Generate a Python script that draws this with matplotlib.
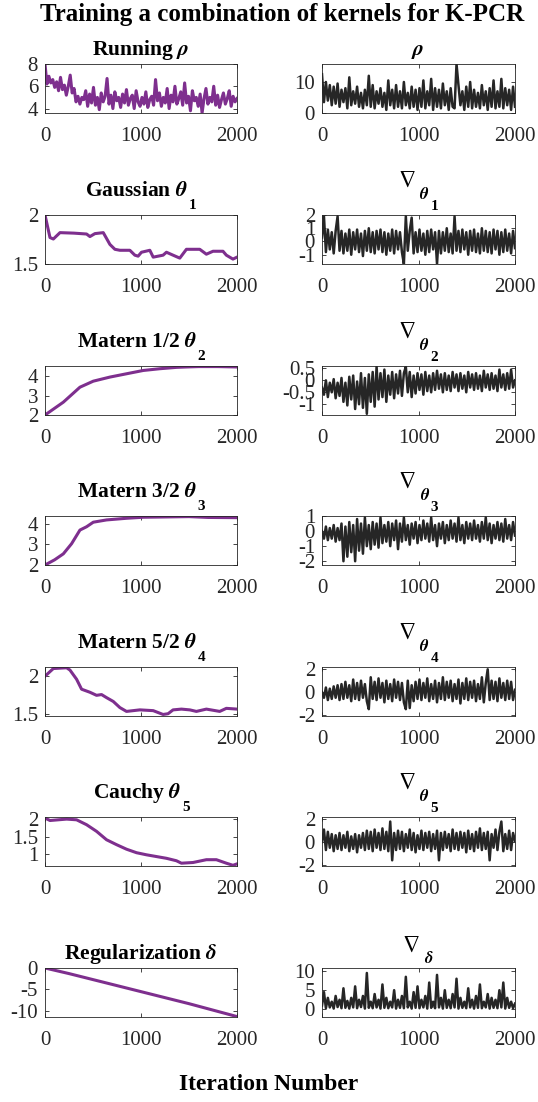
import numpy as np
import matplotlib
matplotlib.use("Agg")
import matplotlib.pyplot as plt

plt.rcParams["font.family"] = ["Liberation Serif", "DejaVu Serif"]
plt.rcParams["mathtext.fontset"] = "stix"
plt.rcParams["axes.unicode_minus"] = False

PURPLE = "#7E2F8E"
DARK = "#262626"

# ---- left column: parameter traces ----
running_rho = [8.0, 6.2, 6.9, 6.3, 6.6, 5.9, 6.4, 5.6, 6.8, 5.7,
               6.1, 5.2, 6.0, 7.0, 5.4, 5.8, 4.6, 5.1, 4.4, 5.0,
               4.8, 5.6, 4.2, 5.3, 4.5, 5.9, 4.3, 5.0, 3.9, 5.4,
               4.6, 5.1, 6.7, 4.4, 5.2, 4.0, 5.5, 4.7, 5.0, 4.1,
               5.3, 4.5, 5.7, 4.3, 4.9, 5.2, 4.0, 5.6, 4.6, 4.2,
               5.0, 4.4, 5.5, 4.1, 4.8, 5.1, 4.3, 6.6, 4.7, 5.4,
               4.2, 5.0, 4.5, 5.8, 4.0, 5.2, 4.6, 6.0, 4.4, 4.9,
               5.5, 4.3, 6.3, 4.5, 5.1, 3.8, 5.6, 4.7, 5.0, 4.2,
               5.3, 3.6, 4.9, 5.8, 4.4, 5.0, 4.6, 6.0, 4.3, 5.2,
               4.1, 4.8, 5.4, 4.4, 4.9, 5.6, 4.2, 5.1, 4.6, 4.9]

gauss_it = [0, 52, 87, 156, 300, 433, 468, 520, 607, 676, 728, 780, 884, 936, 970,
            1005, 1092, 1127, 1230, 1265, 1334, 1404, 1473, 1612, 1681, 1750, 1854,
            1889, 1958, 2000]
gauss_theta = [2.0, 1.77, 1.755, 1.82, 1.815, 1.806, 1.78, 1.81, 1.82, 1.70, 1.65,
               1.64, 1.64, 1.59, 1.58, 1.62, 1.64, 1.57, 1.59, 1.62, 1.59, 1.56, 1.65,
               1.65, 1.60, 1.63, 1.63, 1.59, 1.55, 1.57]

m12_it = [0, 191, 364, 503, 676, 849, 1023, 1196, 1369, 1473, 1600, 1800, 2000]
m12_theta = [2.0, 2.66, 3.43, 3.74, 3.95, 4.12, 4.29, 4.38, 4.45, 4.47, 4.49, 4.49, 4.47]

m32_it = [0, 100, 191, 277, 364, 433, 503, 641, 849, 1023, 1200, 1500, 1700, 2000]
m32_theta = [2.0, 2.25, 2.54, 3.03, 3.69, 3.85, 4.07, 4.18, 4.26, 4.31, 4.32, 4.34,
             4.30, 4.29]

m52_it = [0, 87, 225, 260, 329, 381, 468, 537, 589, 641, 711, 780, 849, 988, 1127,
          1230, 1282, 1334, 1421, 1508, 1577, 1681, 1820, 1889, 2000]
m52_theta = [2.0, 2.10, 2.11, 2.08, 1.96, 1.83, 1.79, 1.75, 1.76, 1.72, 1.67, 1.59,
             1.54, 1.56, 1.55, 1.50, 1.51, 1.56, 1.57, 1.56, 1.54, 1.57, 1.54, 1.58, 1.57]

cauchy_it = [0, 52, 225, 329, 433, 537, 641, 745, 849, 953, 1057, 1161, 1265, 1369,
             1421, 1542, 1681, 1785, 1889, 1958, 2000]
cauchy_theta = [2.03, 1.96, 2.0, 1.98, 1.84, 1.65, 1.41, 1.27, 1.14, 1.04, 0.98,
                0.93, 0.88, 0.81, 0.74, 0.76, 0.84, 0.84, 0.74, 0.68, 0.72]

reg_it = [0, 250, 500, 750, 1000, 1250, 1500, 1750, 2000]
reg_delta = [0.0, -1.3, -2.7, -4.1, -5.5, -6.9, -8.3, -9.8, -11.3]

# ---- right column: gradients ----
grad_rho = [12.5, 3.5, 10.0, 4.0, 9.0, 2.5, 8.5, 3.0, 9.5, 2.0,
            7.5, 3.5, 8.0, 1.5, 11.5, 2.5, 7.0, 3.0, 8.5, 2.0,
            6.5, 1.5, 7.5, 2.5, 12.0, 2.0, 9.0, 1.5, 7.0, 3.0,
            8.0, 2.0, 6.5, 1.0, 10.5, 2.5, 7.5, 1.5, 9.0, 2.0,
            7.0, 1.5, 10.0, 2.5, 6.5, 1.5, 8.5, 2.0, 7.5, 1.0,
            8.0, 2.0, 10.5, 1.5, 7.0, 2.5, 11.0, 1.0, 8.0, 2.0,
            7.5, 1.5, 9.5, 2.5, 7.0, 1.0, 8.0, 2.0, 1.5, 15.8,
            9.0, 2.5, 7.0, 1.0, 8.5, 2.0, 10.0, 1.5, 7.5, 2.0,
            6.5, 1.5, 9.0, 2.5, 7.0, 1.0, 8.0, 2.0, 10.5, 1.5,
            7.0, 2.0, 11.0, 1.5, 8.0, 2.5, 7.5, 1.0, 8.5, 2.0]

grad_t1 = [0.3, 1.9, -0.8, 0.9, -0.6, 0.7, -0.9, 0.8, 1.9, -0.7,
           0.8, -0.9, 0.6, -0.7, 0.9, -1.0, 0.7, -0.6, 0.9, -0.8,
           0.6, -1.1, 0.8, -0.7, 1.0, -0.8, 0.7, -0.9, 0.8, -0.6,
           0.9, -0.8, 0.7, -1.0, 0.6, -0.7, 0.9, -0.9, 0.8, -0.6,
           0.7, -0.8, -1.7, 1.9, -0.7, 0.8, 1.8, -0.9, 0.7, -0.8,
           0.9, -0.7, 0.6, -1.0, 0.8, -0.8, 0.9, -0.6, 0.7, -1.7,
           0.8, -0.9, 0.7, -0.7, 1.0, -0.8, 0.6, -0.9, 1.9, -0.7,
           0.8, -0.8, 0.9, -0.6, 0.7, -1.0, 0.8, -0.7, 0.9, -0.8,
           0.6, -0.9, 1.0, -0.7, 0.8, -0.8, 0.7, -0.9, 0.9, -0.6,
           0.8, -1.0, 0.7, -0.8, 0.9, -0.7, 0.6, -0.9, 0.8, -0.5]

grad_t2 = [-0.3, -0.6, 0.0, -0.7, -0.1, -0.5, 0.05, -0.75, -0.1, -0.65,
           0.1, -0.9, -0.1, -1.05, 0.15, -0.8, 0.2, -1.2, -0.05, -1.0,
           0.3, -1.15, 0.1, -1.4, 0.25, -0.9, 0.35, -1.1, 0.57, -0.8,
           0.3, -0.7, 0.45, -0.9, 0.2, -0.6, 0.35, -0.75, 0.25, -0.55,
           0.4, -0.65, 0.3, 0.57, -0.5, 0.35, -0.7, 0.2, -0.55, 0.3,
           -0.4, 0.25, -0.6, 0.35, -0.45, 0.2, -0.5, 0.3, -0.4, 0.4,
           -0.35, 0.25, -0.5, 0.3, -0.4, 0.2, -0.45, 0.35, -0.3, 0.25,
           -0.45, 0.3, -0.35, 0.2, -0.5, 0.35, -0.3, 0.25, -0.4, 0.3,
           -0.35, 0.2, -0.45, 0.4, -0.3, 0.25, -0.4, 0.3, -0.35, 0.2,
           -0.45, 0.45, -0.3, 0.25, -0.4, 0.3, -0.35, 0.45, -0.3, 0.0]

grad_t3 = [0.0, -0.5, 0.3, -0.6, 0.2, -0.5, 0.4, -0.7, 0.2, -0.6,
           0.5, -2.0, 0.3, -1.7, 0.6, -1.4, 0.4, -2.0, 0.8, -1.3,
           0.5, -1.5, 0.9, -1.0, 0.4, -1.2, 0.6, -0.9, 0.5, -1.1,
           0.9, -0.8, 0.4, -0.7, 0.6, -1.0, 0.5, -0.6, 0.7, -1.2,
           0.5, -0.7, 0.9, -0.6, 0.4, -0.9, 0.5, -0.5, 0.6, -0.8,
           0.4, -0.6, 0.7, -0.5, 0.5, -0.7, 0.9, -0.6, 0.4, -1.0,
           0.5, -0.5, 0.6, -0.8, 0.4, -0.6, 0.7, -0.5, 0.5, -0.7,
           0.9, -0.6, 0.4, -0.8, 0.6, -0.5, 0.5, -0.6, 0.7, -0.5,
           0.4, -0.7, 0.6, -0.5, 0.9, -0.6, 0.5, -0.8, 0.4, -0.5,
           0.6, -0.6, 0.5, -0.7, 0.8, -0.5, 0.4, -0.6, 0.6, -0.3]

grad_t4 = [0.0, -0.5, 0.4, -0.7, 0.3, -0.6, 0.5, -0.5, 0.6, -0.7,
           0.7, -0.6, 0.9, -0.5, 0.6, -0.8, 1.1, -0.6, 0.8, -0.7,
           1.0, -0.5, 0.7, -0.8, -1.5, 1.3, -0.6, 0.9, -0.7, 1.2,
           -0.5, 0.8, -0.9, 1.0, -0.6, 0.7, -0.8, 1.1, -0.5, 0.9,
           -0.7, 0.8, -0.9, -1.5, 1.0, -1.4, 0.6, -0.8, 0.9, -0.6,
           1.1, -0.7, 0.8, -0.5, 1.2, -0.8, 0.7, -0.6, 1.0, -0.9,
           0.8, -0.6, 1.3, -0.7, 0.9, -0.5, 1.0, -0.8, 0.7, -0.6,
           1.1, -1.0, 0.8, -0.6, 1.2, -0.7, 0.9, -0.5, 1.0, -0.8,
           0.7, -0.6, 1.3, -0.9, 0.8, 2.0, -0.7, 1.0, -0.6, 0.9,
           -0.8, 1.2, -0.5, 0.8, -0.7, 1.0, -0.6, 0.9, -0.7, 0.2]

grad_t5 = [0.0, 1.1, -0.7, 0.9, -0.5, 0.7, -0.8, 0.6, -0.6, 0.8,
           -0.7, 0.6, -0.5, 0.9, -0.8, 0.5, -0.6, 0.7, -0.9, 0.6,
           -0.5, 0.8, -0.7, 1.0, -0.6, 0.9, -0.8, 1.1, -0.5, 0.8,
           -0.7, 1.2, -0.6, 0.9, -0.8, 1.8, -1.6, 0.8, -0.7, 1.0,
           -0.6, 0.9, -0.8, 0.7, -0.5, 1.1, -0.7, 0.8, -0.9, 0.6,
           -0.6, 1.0, -0.7, 0.8, -0.5, 0.9, -0.8, 0.7, -0.6, 1.0,
           -1.6, 0.8, -0.7, 0.9, -0.5, 0.7, -0.8, 1.1, -0.6, 0.8,
           -0.7, 0.9, -0.5, 0.8, -0.9, 1.0, -0.6, 0.7, -0.8, 0.9,
           -0.5, 1.2, -0.7, 0.8, -0.6, 0.9, -1.6, 0.7, -0.5, 1.1,
           -0.7, 0.9, 1.8, -0.8, 0.7, -0.6, 1.0, -0.7, 0.8, 0.1]

grad_delta = [1.0, 4.5, 0.3, 3.0, 0.5, 2.0, 0.2, 3.5, 0.6, 2.5,
              0.3, 5.5, 0.4, 2.2, 0.2, 3.0, 0.5, 6.0, 0.3, 2.5,
              0.6, 3.5, 0.2, 9.5, 0.4, 2.0, 0.3, 4.0, 0.5, 2.5,
              0.2, 6.5, 0.4, 3.0, 0.3, 2.0, 0.5, 5.0, 0.2, 2.5,
              0.4, 3.5, 0.3, 8.5, 0.5, 2.0, 0.2, 4.5, 0.4, 6.0,
              0.3, 2.5, 0.5, 3.5, 0.2, 7.0, 0.4, 2.0, 0.3, 9.0,
              0.5, 3.0, 0.2, 5.0, 0.4, 2.5, 0.3, 4.0, 0.5, 8.0,
              0.2, 3.0, 0.4, 2.0, 0.3, 5.5, 0.5, 2.5, 0.2, 3.5,
              0.4, 6.5, 0.3, 2.0, 0.5, 4.0, 0.2, 3.0, 0.4, 2.5,
              0.3, 5.0, 0.5, 7.0, 0.2, 3.0, 0.4, 2.0, 0.3, 1.5]

# title pieces: (main text, subscript or None)
left_titles = [("Running $\\boldsymbol{\\rho}$", None),
               ("Gaussian $\\boldsymbol{\\theta}$", "1"),
               ("Matern 1/2 $\\boldsymbol{\\theta}$", "2"),
               ("Matern 3/2 $\\boldsymbol{\\theta}$", "3"),
               ("Matern 5/2 $\\boldsymbol{\\theta}$", "4"),
               ("Cauchy $\\boldsymbol{\\theta}$", "5"),
               ("Regularization $\\boldsymbol{\\delta}$", None)]
right_subs = [None, ("theta", "1"), ("theta", "2"), ("theta", "3"), ("theta", "4"),
              ("theta", "5"), ("delta", None)]

left_data = [(None, running_rho), (gauss_it, gauss_theta), (m12_it, m12_theta),
             (m32_it, m32_theta), (m52_it, m52_theta), (cauchy_it, cauchy_theta),
             (reg_it, reg_delta)]
right_data = [grad_rho, grad_t1, grad_t2, grad_t3, grad_t4, grad_t5, grad_delta]

left_ylims = [(3.6, 8), (1.5, 2.0), (2, 4.52), (2, 4.37), (1.48, 2.12), (0.66, 2.06),
              (-11.4, 0)]
left_yticks = [[4, 6, 8], [1.5, 2], [2, 3, 4], [2, 3, 4], [1.5, 2], [1, 1.5, 2],
               [-10, -5, 0]]
right_ylims = [(0, 15.8), (-1.7, 2.0), (-1.45, 0.6), (-2.25, 1.0), (-2.1, 2.2),
               (-2.1, 2.2), (-2, 10.8)]
right_yticks = [[0, 10], [-1, 0, 1, 2], [-1, -0.5, 0, 0.5], [-2, -1, 0, 1],
                [-2, 0, 2], [-2, 0, 2], [0, 5, 10]]

W, H = 538, 1102
fig = plt.figure(figsize=(W / 100, H / 100), dpi=100)
renderer = fig.canvas.get_renderer()

row_tops = [64, 215, 366, 516, 667, 817, 968]
ax_h = 49
TSIZE = 15.5
SUBSIZE = 11


def style(ax, ylim, yticks):
    ax.set_xlim(0, 2000)
    ax.set_ylim(*ylim)
    ax.set_xticks([0, 1000, 2000])
    ax.set_yticks(yticks)
    ax.set_yticklabels([f"{t:g}" for t in yticks])
    ax.tick_params(direction="in", length=3, width=0.6, top=True, right=True,
                   labelsize=15, colors=DARK)
    ax.tick_params(axis="x", pad=10)
    ax.tick_params(axis="y", pad=5)
    for s in ax.spines.values():
        s.set_linewidth(0.6)
        s.set_color(DARK)


def put_pieces(pieces, cx):
    # pieces: list of (text, size, weight, baseline px from top, gap before)
    objs = []
    total = 0
    for txt, size, weight, base, gap in pieces:
        t = fig.text(0, 0, txt, fontsize=size, fontweight=weight, ha="left",
                     va="baseline", color="black")
        w = t.get_window_extent(renderer).width
        objs.append((t, w, base, gap))
        total += gap + w
    x = cx - total / 2
    for t, w, base, gap in objs:
        x += gap
        t.set_position((x / W, 1 - base / H))
        x += w


for i in range(7):
    top = row_tops[i]
    bottom = 1 - (top + ax_h) / H
    axl = fig.add_axes([45 / W, bottom, 192 / W, ax_h / H])
    it, vals = left_data[i]
    if it is None:
        it = np.linspace(0, 2000, len(vals))
    axl.plot(it, vals, color=PURPLE, lw=2.2)
    style(axl, left_ylims[i], left_yticks[i])

    main, sub = left_titles[i]
    if sub is None:
        put_pieces([(main, TSIZE, "bold", top - 9, 0)], 141)
    else:
        put_pieces([(main, TSIZE, "bold", top - 19, 0),
                    (sub, SUBSIZE, "bold", top - 6, 1)], 141)

    axr = fig.add_axes([322 / W, bottom, 193 / W, ax_h / H])
    g = right_data[i]
    axr.plot(np.linspace(0, 2000, len(g)), g, color=DARK, lw=1.8)
    style(axr, right_ylims[i], right_yticks[i])

    rs = right_subs[i]
    if rs is None:
        put_pieces([("$\\boldsymbol{\\rho}$", TSIZE, "bold", top - 9, 0)], 418)
    elif rs[1] is None:
        put_pieces([("$\\nabla$", 17, "normal", top - 16, 0),
                    ("$\\boldsymbol{\\%s}$" % rs[0], 12, "bold", top - 5, 4)], 418)
    else:
        put_pieces([("$\\nabla$", 17, "normal", top - 28, 0),
                    ("$\\boldsymbol{\\%s}$" % rs[0], 12, "bold", top - 16, 4),
                    (rs[1], SUBSIZE, "bold", top - 5, 1)], 418)

fig.text(282 / W, 1 - 15 / H, "Training a combination of kernels for K-PCR",
         ha="center", va="center", fontsize=18, fontweight="bold")
fig.text(0.5, 1 - 1085 / H, "Iteration Number", ha="center", va="center",
         fontsize=17, fontweight="bold")

fig.savefig("out.png", dpi=100)
